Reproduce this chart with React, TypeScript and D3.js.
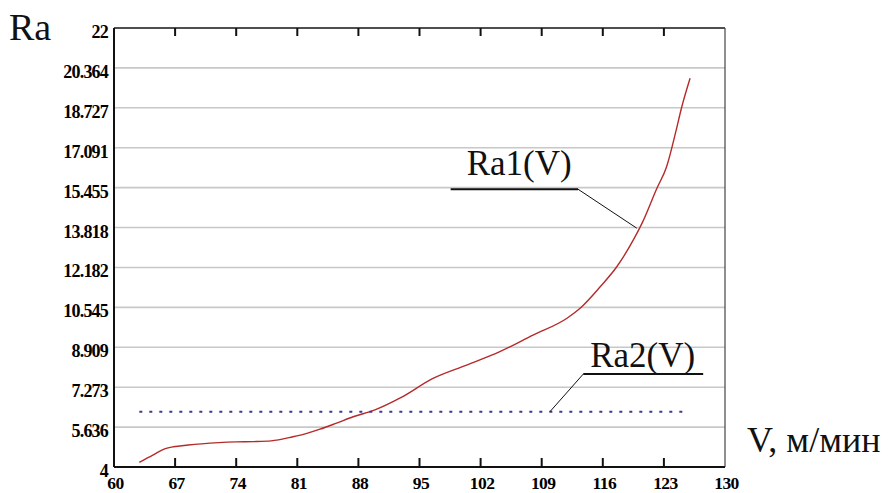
import React from 'react';
import * as d3 from 'd3';

// Ra1(V) curve
const speedV = [62.9, 64.5, 65.8, 66.8, 68.5, 70, 72, 74, 76, 78, 80.5, 82, 83.6, 85.5, 87.4, 89.9, 92.8, 96.6, 100.4, 104.2, 108, 111.9, 113.4, 115.7, 117.6, 119.5, 120.5, 122.2, 123.3, 124.4, 125, 126];
const ra1Values = [4.19, 4.5, 4.74, 4.83, 4.9, 4.95, 5.0, 5.03, 5.04, 5.07, 5.24, 5.37, 5.55, 5.8, 6.06, 6.34, 6.83, 7.64, 8.18, 8.73, 9.41, 10.1, 10.51, 11.39, 12.21, 13.31, 14.0, 15.43, 16.3, 17.8, 18.7, 19.94];

// Ra2(V) is flat
const ra2Speed = [62.9, 125.5];
const ra2Values = [6.27, 6.27];

const xTicks = [60, 67, 74, 81, 88, 95, 102, 109, 116, 123, 130];
const yTicks = [4, 5.636, 7.273, 8.909, 10.545, 12.182, 13.818, 15.455, 17.091, 18.727, 20.364, 22];

const serif = '"Liberation Serif", "Times New Roman", serif';

export default function App() {
    const width = 890;
    const height = 493;
    const left = 114;
    const right = 725;
    const top = 28;
    const bottom = 467;

    const x = d3.scaleLinear().domain([60, 130]).range([left, right]);
    const y = d3.scaleLinear().domain([4, 22]).range([bottom, top]);

    const pts1: [number, number][] = speedV.map((v, i) => [v, ra1Values[i]]);
    const pts2: [number, number][] = ra2Speed.map((v, i) => [v, ra2Values[i]]);

    const line = d3.line<[number, number]>()
        .x(d => x(d[0]))
        .y(d => y(d[1]))
        .curve(d3.curveMonotoneX);

    // label leaders (in data units)
    const l1 = { x0: 98.57, x1: 113.16, level: 15.39, tx: 119.9, ty: 13.79 };
    const l2 = { x0: 113.76, x1: 127.5, level: 7.81, tx: 109.95, ty: 6.27 };

    return (
        <svg width={width} height={height}
            style={{ position: 'absolute', left: 0, top: 0, display: 'block', background: '#fff' }}>
            {/* grid lines */}
            {yTicks.slice(1).map(t => (
                <line key={'g' + t} x1={left} x2={right} y1={y(t)} y2={y(t)}
                    stroke="#c8c8c8" strokeWidth={1.6} />
            ))}

            {/* frame */}
            <line x1={left} x2={right} y1={top} y2={top} stroke="#222" strokeWidth={1.5} />
            <line x1={right} x2={right} y1={top} y2={bottom} stroke="#444" strokeWidth={1.2} />
            <line x1={left} x2={left} y1={top} y2={bottom} stroke="#111" strokeWidth={2} />
            <line x1={left} x2={right} y1={bottom} y2={bottom} stroke="#111" strokeWidth={2} />

            {/* x ticks, top and bottom, pointing in */}
            {xTicks.slice(1, -1).map(t => (
                <g key={'t' + t}>
                    <line x1={x(t)} x2={x(t)} y1={bottom} y2={bottom - 9} stroke="#111" strokeWidth={2} />
                    <line x1={x(t)} x2={x(t)} y1={top} y2={top + 8} stroke="#111" strokeWidth={2} />
                </g>
            ))}

            {/* tick labels */}
            {xTicks.map(t => (
                <text key={'xl' + t} x={x(t) + 1.5} y={489} textAnchor="middle"
                    fontFamily={serif} fontWeight="bold" fontSize={17.5} letterSpacing={-0.6}>{t}</text>
            ))}
            {yTicks.map(t => (
                <text key={'yl' + t} x={108} y={y(t) + 10} textAnchor="end"
                    fontFamily={serif} fontWeight="bold" fontSize={18} letterSpacing={-0.8}>{t}</text>
            ))}

            {/* series */}
            <path d={line(pts1) || ''} fill="none" stroke="#b52a2a" strokeWidth={1.4} />
            <path d={line(pts2) || ''} fill="none" stroke="#3a3a98" strokeWidth={2}
                strokeDasharray="3,7" />

            {/* Ra1 label */}
            <line x1={x(l1.x0)} x2={x(l1.x1)} y1={y(l1.level)} y2={y(l1.level)} stroke="#111" strokeWidth={2} />
            <line x1={x(l1.x1)} x2={x(l1.tx)} y1={y(l1.level)} y2={y(l1.ty)} stroke="#111" strokeWidth={1} />
            <text x={x(l1.x0) + 16} y={y(l1.level) - 14} fontFamily={serif} fontSize={35} fill="#111">Ra1(V)</text>

            {/* Ra2 label */}
            <line x1={x(l2.x0)} x2={x(l2.x1)} y1={y(l2.level)} y2={y(l2.level)} stroke="#111" strokeWidth={2} />
            <line x1={x(l2.x0)} x2={x(l2.tx)} y1={y(l2.level)} y2={y(l2.ty)} stroke="#111" strokeWidth={1} />
            <text x={x(l2.x0) + 7} y={y(l2.level) - 7} fontFamily={serif} fontSize={35} fill="#111">Ra2(V)</text>

            {/* axis titles */}
            <text x={9} y={40} fontFamily={serif} fontSize={38} fill="#111">Ra</text>
            <text x={747} y={452} fontFamily={serif} fontSize={36} fill="#111">V, м/мин</text>
        </svg>
    );
}
